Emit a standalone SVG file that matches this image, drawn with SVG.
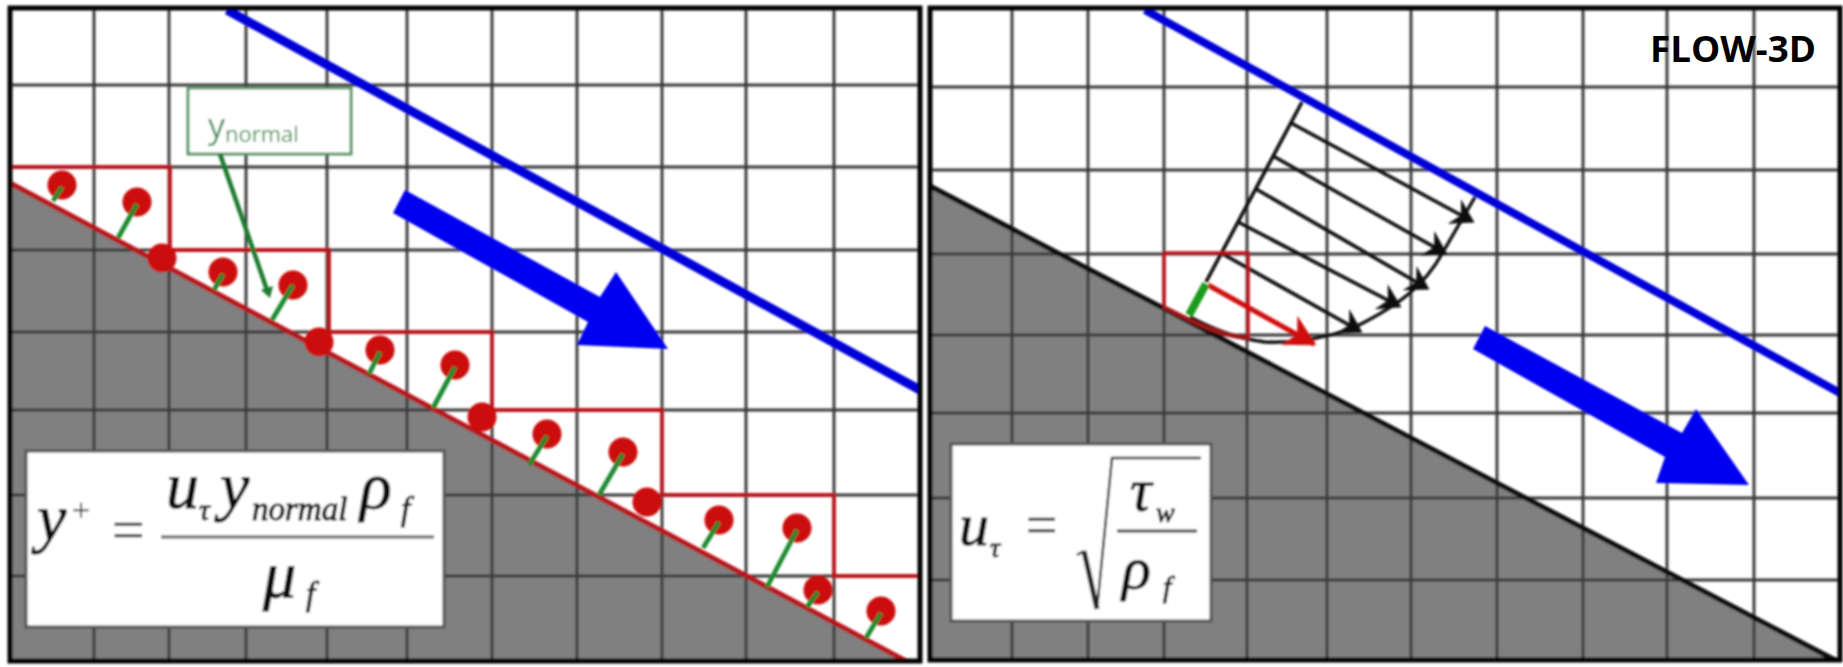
<svg xmlns="http://www.w3.org/2000/svg" width="1843" height="667" viewBox="0 0 1843 667">
<style>
.grid{stroke:#3a3a3a;stroke-width:2.9;fill:none}
.frame{fill:none;stroke:#050505;stroke-width:5}
.wall{fill:#808080}
.blue{fill:#0000f0}
.bl{stroke:#0000d8;fill:none}
.red{stroke:#b8141c;fill:none;stroke-width:3.8}
.redw{stroke:#b8141c;fill:none;stroke-width:5}
.dot{fill:#cc0a0a}
.st{stroke:#1f8a30;stroke-width:4.8;fill:none}
.box{fill:#fff;stroke:#555;stroke-width:3}
.m{font-family:"Liberation Serif",serif;font-style:italic;fill:#111;stroke:#111;stroke-width:1}
.mu{font-family:"Liberation Serif",serif;fill:#333;stroke:#333;stroke-width:.4}
.ar{stroke:#0a0a0a;stroke-width:3.6;fill:none;marker-end:url(#h)}
</style>
<defs>
<filter id="b" x="0" y="0" width="1843" height="667" filterUnits="userSpaceOnUse"><feGaussianBlur stdDeviation="0.8"/></filter>
<marker id="h" markerUnits="userSpaceOnUse" markerWidth="28" markerHeight="28" refX="17" refY="11" orient="auto" viewBox="0 0 22 22"><path d="M3,0 L21,11 L3,22 L9,11 Z" fill="#0a0a0a"/></marker>
<marker id="hr" markerUnits="userSpaceOnUse" markerWidth="36" markerHeight="36" refX="24" refY="14" orient="auto" viewBox="0 0 28 28"><path d="M2,1 L26,14 L2,27 L9,14 Z" fill="#d00a10"/></marker>
</defs>
<rect width="1843" height="667" fill="#fff"/>
<g filter="url(#b)">
<g id="left-panel">
<polygon class="wall" points="10,183 906,661 10,661"/>
<path class="grid" d="M94 8V661M169 8V661M246 8V661M327 8V661M407 8V661M492 8V661M577 8V661M662 8V661M746 8V661M834 8V661M10 85H920M10 167H920M10 250H920M10 332H920M10 410H920M10 495H920M10 576H920"/>
<path class="bl" stroke-width="9" d="M227 10L920 390"/>
<polygon class="blue" points="405,190 600,297 616,272 668,349 577,345 588,322 393,213"/>
<path class="red" d="M10 167H170V250H329V332H492V410H662V495H834V576H920"/>
<path class="redw" d="M10 183L906 661"/>
<g id="cells">
<g class="dot"><circle cx="62" cy="185" r="14.5"/><circle cx="137" cy="202" r="14.5"/><circle cx="162" cy="258" r="14.5"/><circle cx="223" cy="272" r="14.5"/><circle cx="293" cy="285" r="14.5"/><circle cx="319" cy="342" r="14.5"/><circle cx="380" cy="350" r="14.5"/><circle cx="455" cy="365" r="14.5"/><circle cx="482" cy="417" r="14.5"/><circle cx="547" cy="434" r="14.5"/><circle cx="623" cy="452" r="14.5"/><circle cx="647" cy="502" r="14.5"/><circle cx="719" cy="520" r="14.5"/><circle cx="797" cy="528" r="14.5"/><circle cx="818" cy="590" r="14.5"/><circle cx="881" cy="611" r="14.5"/></g>
<path class="st" d="M62 187L53 201M137 204L118 238M223 274L214 290M293 285L272 320M380 352L369 374M455 367L433 408M547 436L529 465M623 454L599 495M719 522L703 548M797 530L767 587M818 592L807 607M881 613L866 638"/>
</g>
<g id="ynormal">
<rect x="188" y="88" width="163" height="66" fill="#fff" stroke="#4f8f5f" stroke-width="2.8"/>
<text x="208" y="138" font-family="Open Sans,sans-serif" font-size="34" fill="#3f8f52">y</text>
<text x="225" y="142" font-family="Open Sans,sans-serif" font-size="22" fill="#3f8f52">normal</text>
<path d="M220 154L267 290" stroke="#1b7a2e" stroke-width="4.5" fill="none"/>
<polygon points="261,290 273,286 270,298" fill="#1b7a2e"/>
</g>
<g id="formula-yplus">
<rect class="box" x="26" y="451" width="418" height="176"/>
<text class="m" x="37" y="540" font-size="66">y</text>
<text class="mu" x="72" y="521" font-size="32">+</text>
<text class="mu" x="112" y="549" font-size="58">=</text>
<path d="M161 537H434" stroke="#777" stroke-width="3.5"/>
<text class="m" x="166" y="508" font-size="66">u</text>
<text class="m" x="199" y="520" font-size="30">τ</text>
<text class="m" x="220" y="508" font-size="66">y</text>
<text class="m" x="252" y="520" font-size="33">normal</text>
<text class="m" x="360" y="508" font-size="66">ρ</text>
<text class="m" x="401" y="520" font-size="33">f</text>
<text class="m" x="263" y="597" font-size="66">μ</text>
<text class="m" x="306" y="605" font-size="33">f</text>
</g>
<rect x="10" y="8" width="910" height="653" class="frame"/>
</g>
<g id="right-panel">
<polygon class="wall" points="930,186 1835,660 930,660"/>
<path class="grid" d="M1012 8V660M1088 8V660M1164 8V660M1247 8V660M1327 8V660M1411 8V660M1497 8V660M1583 8V660M1667 8V660M1754 8V660M930 87H1840M930 170H1840M930 254H1840M930 335H1840M930 413H1840M930 498H1840M930 580H1840"/>
<path d="M930 186L1835 660" stroke="#0a0a0a" stroke-width="5" fill="none"/>
<path class="bl" stroke-width="8" d="M1145 10L1840 393"/>
<polygon class="blue" points="1485,326 1682,433 1696,409 1749,485 1656,483 1665,457 1473,349"/>
<g id="profile">
<path d="M1302 102L1206 282" stroke="#0a0a0a" stroke-width="3.6" fill="none"/>
<path d="M1475 197L1443 252C1425 285 1400 305 1353 328C1320 340 1290 343 1265 342C1235 338 1215 330 1190 317" stroke="#0a0a0a" stroke-width="3.4" fill="none"/>
<path class="ar" d="M1291 123L1470 220"/>
<path class="ar" d="M1273 156L1443 252"/>
<path class="ar" d="M1256 189L1425 287"/>
<path class="ar" d="M1238 222L1397 305"/>
<path class="ar" d="M1221 253L1358 330"/>
<path d="M1164 307V253H1248V340" stroke="#b8141c" stroke-width="3.6" fill="none"/>
<path d="M1163 307C1190 320 1215 335 1248 338" stroke="#9c1418" stroke-width="4.5" fill="none"/>
<path d="M1208 285L1314 344" stroke="#d00a10" stroke-width="5" fill="none" marker-end="url(#hr)"/>
<path d="M1206 284L1189 315" stroke="#1c9a1c" stroke-width="8" fill="none"/>
</g>
<g id="formula-utau">
<rect class="box" x="951" y="444" width="260" height="177"/>
<text class="m" x="959" y="545" font-size="60">u</text>
<text class="m" x="990" y="557" font-size="28">τ</text>
<text class="mu" x="1026" y="544" font-size="56">=</text>
<path d="M1077 555L1084 551" fill="none" stroke="#222" stroke-width="2.4"/>
<path d="M1084 551L1097 609" fill="none" stroke="#222" stroke-width="5"/>
<path d="M1097 609L1112 458H1201" fill="none" stroke="#222" stroke-width="2.4"/>
<text class="m" x="1130" y="510" font-size="60">τ</text>
<text class="m" x="1156" y="522" font-size="28">w</text>
<path d="M1117 531H1197" stroke="#444" stroke-width="3"/>
<text class="m" x="1122" y="588" font-size="60">ρ</text>
<text class="m" x="1163" y="597" font-size="30">f</text>
</g>
<rect x="930" y="8" width="910" height="652" class="frame"/>
</g>
</g>
<text id="label-flow3d" x="1650" y="62" font-family="Open Sans,sans-serif" font-weight="700" font-size="35" fill="#000" textLength="166" lengthAdjust="spacingAndGlyphs">FLOW-3D</text>
</svg>
